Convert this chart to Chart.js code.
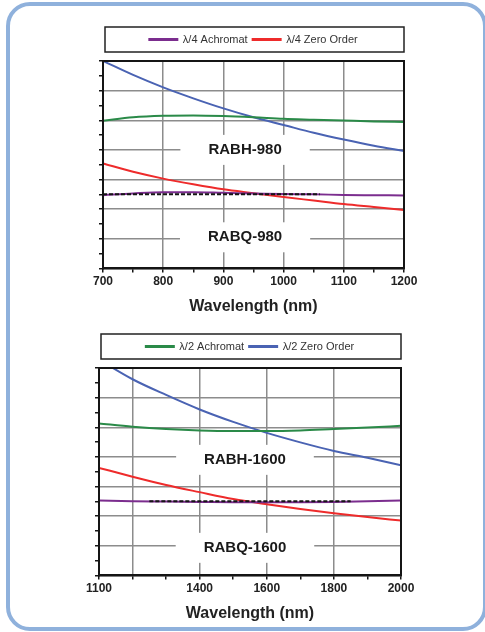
<!DOCTYPE html>
<html lang="en">
<head>
<meta charset="UTF-8">
<title>RABH / RABQ retardance vs wavelength</title>
<script src="https://cdn.jsdelivr.net/npm/chart.js"></script>
<style>
  body {
    margin: 0;
    width: 485px;
    height: 632px;
    overflow: hidden;
    position: relative;
    background: #fff;
  }

  .frame {
    position: absolute;
    left: 6px;
    top: 2px;
    width: 481px;
    height: 629px;
    box-sizing: border-box;
    border: 4px solid #8fb1dc;
    border-radius: 24px;
  }

  canvas {
    position: absolute;
    left: 0;
  }

  #chartTop { top: 0; }
  #chartBottom { top: 307px; }
</style>
</head>
<body>
<div class="frame"></div>
<canvas id="chartTop" width="485" height="320"></canvas>
<canvas id="chartBottom" width="485" height="320"></canvas>

<script>
// ---- top panel: 700 - 1200 nm ----
const topWavelength = [700, 750, 800, 850, 900, 950, 1000, 1050, 1100, 1150, 1200];
const topQuarterAchromat = [2.47, 2.53, 2.57, 2.57, 2.55, 2.53, 2.51, 2.50, 2.48, 2.47, 2.46];
const topQuarterZeroOrder = [3.54, 3.26, 3.03, 2.84, 2.67, 2.54, 2.41, 2.29, 2.17, 2.07, 1.97];
const topHalfAchromat = [4.98, 5.10, 5.15, 5.16, 5.14, 5.10, 5.05, 5.02, 4.99, 4.96, 4.94];
const topHalfZeroOrder = [7.00, 6.53, 6.11, 5.74, 5.40, 5.10, 4.84, 4.58, 4.35, 4.14, 3.96];
const topDashWavelength = [700, 1060];
const topDashLevel = [2.5, 2.5];
const topTickLabels = [700, 800, 900, 1000, 1100, 1200];
const topGridLines = [800, 900, 1000, 1100];

// ---- bottom panel: 1100 - 2000 nm ----
const bottomWavelength = [1100, 1200, 1300, 1400, 1500, 1600, 1700, 1800, 1900, 2000];
const bottomQuarterAchromat = [2.53, 2.50, 2.49, 2.48, 2.47, 2.47, 2.47, 2.48, 2.50, 2.53];
const bottomQuarterZeroOrder = [3.63, 3.33, 3.05, 2.81, 2.58, 2.40, 2.24, 2.10, 1.97, 1.85];
const bottomHalfAchromat = [5.13, 5.02, 4.94, 4.89, 4.87, 4.87, 4.89, 4.94, 4.99, 5.05];
const bottomHalfZeroOrder = [7.28, 6.62, 6.09, 5.60, 5.18, 4.81, 4.49, 4.20, 3.97, 3.72];
const bottomDashWavelength = [1250, 1850];
const bottomDashLevel = [2.5, 2.5];
const bottomTickLabels = [1100, 1400, 1600, 1800, 2000];
const bottomGridLines = [1200, 1400, 1600, 1800];

const FONT = "'Liberation Sans', Arial, sans-serif";
const GRID = '#8c8c8c';
const INK = '#151515';
const colors = {
  quarterAchromat: '#7b2d8e',
  quarterZero: '#ee2b2b',
  halfAchromat: '#2a8a48',
  halfZero: '#4a63b3'
};

Chart.defaults.font.family = FONT;

function series(label, xs, ys, color, extra) {
  return Object.assign({
    label: label,
    data: xs.map((x, i) => ({ x: x, y: ys[i] })),
    borderColor: color,
    backgroundColor: color,
    borderWidth: 2,
    pointRadius: 0,
    cubicInterpolationMode: 'monotone',
    xAxisID: 'x',
    yAxisID: 'y'
  }, extra || {});
}

// white boxes + part names, frame round the plot, frame round the legend
const panelDecor = {
  id: 'panelDecor',
  beforeDatasetsDraw(chart, args, opts) {
    const ctx = chart.ctx;
    ctx.save();
    ctx.font = 'bold 15px ' + FONT;
    ctx.textAlign = 'center';
    ctx.textBaseline = 'middle';
    opts.labels.forEach(l => {
      const px = chart.scales.x.getPixelForValue(l.x);
      const py = chart.scales.y.getPixelForValue(l.y);
      const w = ctx.measureText(l.text).width + 56;
      ctx.fillStyle = '#fff';
      ctx.fillRect(px - w / 2, py - 15, w, 30);
      ctx.fillStyle = '#1a1a1a';
      ctx.fillText(l.text, px, py);
    });
    ctx.restore();
  },
  afterDatasetsDraw(chart) {
    const a = chart.chartArea;
    const ctx = chart.ctx;
    ctx.save();
    ctx.strokeStyle = INK;
    ctx.lineWidth = 2;
    ctx.strokeRect(a.left, a.top, a.right - a.left, a.bottom - a.top);
    ctx.restore();
  },
  afterDraw(chart) {
    const a = chart.chartArea;
    const lg = chart.legend;
    const ctx = chart.ctx;
    ctx.save();
    ctx.strokeStyle = '#222';
    ctx.lineWidth = 1.5;
    ctx.strokeRect(a.left + 2, lg.top - 2, a.right - a.left - 2, 25);
    ctx.restore();
  }
};

function makePanel(id, cfg) {
  return new Chart(document.getElementById(id), {
    type: 'line',
    data: {
      datasets: [
        series('reference', cfg.dashX, cfg.dashY, INK, { borderWidth: 2, borderDash: [4, 2], cubicInterpolationMode: 'default' }),
        series(cfg.names[0], cfg.wl, cfg.qa, colors.quarterAchromat),
        series(cfg.names[1], cfg.wl, cfg.qz, colors.quarterZero),
        series(cfg.names[2], cfg.wl, cfg.ha, colors.halfAchromat),
        series(cfg.names[3], cfg.wl, cfg.hz, colors.halfZero)
      ]
    },
    options: {
      responsive: false,
      animation: false,
      layout: { padding: cfg.padding },
      plugins: {
        tooltip: { enabled: false },
        legend: {
          display: true,
          position: 'top',
          labels: {
            boxWidth: 28,
            boxHeight: 1,
            padding: 5,
            color: '#333',
            font: { size: 11 },
            filter: item => cfg.legend.includes(item.text)
          }
        },
        panelDecor: { labels: cfg.labels }
      },
      scales: {
        x: {
          type: 'linear',
          min: cfg.xMin,
          max: cfg.xMax,
          ticks: {
            stepSize: cfg.step,
            autoSkip: false,
            maxRotation: 0,
            padding: 2,
            color: '#222',
            font: { size: 12, weight: 'bold' },
            callback: v => cfg.tickLabels.includes(v) ? String(v) : ''
          },
          grid: {
            color: c => (c.tick && cfg.gridLines.includes(c.tick.value)) ? GRID : 'rgba(0,0,0,0)',
            lineWidth: 1.5,
            tickColor: INK,
            tickLength: 4,
            tickWidth: 1.5
          },
          border: { color: INK, width: 2 },
          title: {
            display: true,
            text: 'Wavelength (nm)',
            color: '#222',
            font: { size: 16, weight: 'bold' },
            padding: { top: 6, bottom: 0 }
          }
        },
        y: {
          type: 'linear',
          min: 0,
          max: 7,
          ticks: { stepSize: 0.5, display: false },
          grid: {
            color: c => (c.tick && Number.isInteger(c.tick.value)) ? GRID : 'rgba(0,0,0,0)',
            lineWidth: 1.5,
            tickColor: INK,
            tickLength: 4,
            tickWidth: 1.5
          },
          border: { color: INK, width: 2 },
          afterFit: s => { s.width = 20; }
        },
        xTop: {
          type: 'linear',
          position: 'top',
          min: 0,
          max: 1,
          grid: { display: false, drawTicks: false },
          ticks: { display: false },
          border: { display: false },
          afterFit: s => { s.height = 6; }
        },
        yRight: {
          type: 'linear',
          position: 'right',
          min: 0,
          max: 1,
          grid: { display: false, drawTicks: false },
          ticks: { display: false },
          border: { display: false },
          afterFit: s => { s.width = 20; }
        }
      }
    },
    plugins: [panelDecor]
  });
}

makePanel('chartTop', {
  wl: topWavelength,
  qa: topQuarterAchromat,
  qz: topQuarterZeroOrder,
  ha: topHalfAchromat,
  hz: topHalfZeroOrder,
  dashX: topDashWavelength,
  dashY: topDashLevel,
  names: ['λ/4 Achromat', 'λ/4 Zero Order', 'λ/2 Achromat', 'λ/2 Zero Order'],
  legend: ['λ/4 Achromat', 'λ/4 Zero Order'],
  xMin: 700, xMax: 1200, step: 50,
  tickLabels: topTickLabels,
  gridLines: topGridLines,
  padding: { top: 29, left: 83, right: 61, bottom: 4 },
  labels: [
    { text: 'RABH-980', x: 936, y: 4.0 },
    { text: 'RABQ-980', x: 936, y: 1.05 }
  ]
});

makePanel('chartBottom', {
  wl: bottomWavelength,
  qa: bottomQuarterAchromat,
  qz: bottomQuarterZeroOrder,
  ha: bottomHalfAchromat,
  hz: bottomHalfZeroOrder,
  dashX: bottomDashWavelength,
  dashY: bottomDashLevel,
  names: ['λ/4 Achromat', 'λ/4 Zero Order', 'λ/2 Achromat', 'λ/2 Zero Order'],
  legend: ['λ/2 Achromat', 'λ/2 Zero Order'],
  xMin: 1100, xMax: 2000, step: 100,
  tickLabels: bottomTickLabels,
  gridLines: bottomGridLines,
  padding: { top: 29, left: 79, right: 64, bottom: 4 },
  labels: [
    { text: 'RABH-1600', x: 1535, y: 3.9 },
    { text: 'RABQ-1600', x: 1535, y: 0.93 }
  ]
});
</script>
</body>
</html>
